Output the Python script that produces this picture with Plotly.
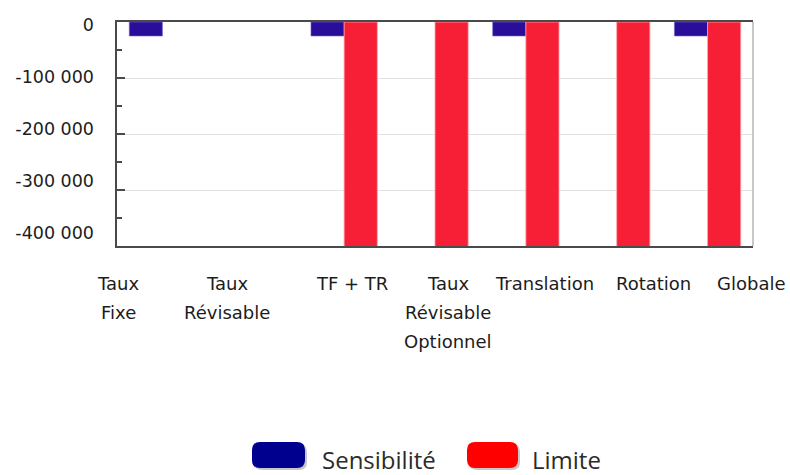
import plotly.graph_objects as go

# Data
categories = ["Taux Fixe", "Taux Révisable", "TF + TR", "Taux Révisable Optionnel",
              "Translation", "Rotation", "Globale"]
category_lines = [["Taux", "Fixe"], ["Taux", "Révisable"], ["TF + TR"],
                  ["Taux", "Révisable", "Optionnel"], ["Translation"], ["Rotation"], ["Globale"]]
sensibilite = [-25000, None, -25000, None, -25000, None, -25000]
limite = [None, None, -500000, -500000, -500000, -500000, -500000]
y_tick_values = [0, -100000, -200000, -300000, -400000]

# Figure geometry (pixels)
W, H = 790, 475
ML, MR, MT, MB = 117, 37, 22, 229
PW, PH = W - ML - MR, H - MT - MB


def to_paper(x, y):
    return (x - ML) / PW, (H - MB - y) / PH


def rounded_rect(x0, y0, x1, y1, r):
    pts = [
        ("M", [(x0 + r, y0)]), ("L", [(x1 - r, y0)]), ("Q", [(x1, y0), (x1, y0 + r)]),
        ("L", [(x1, y1 - r)]), ("Q", [(x1, y1), (x1 - r, y1)]), ("L", [(x0 + r, y1)]),
        ("Q", [(x0, y1), (x0, y1 - r)]), ("L", [(x0, y0 + r)]), ("Q", [(x0, y0), (x0 + r, y0)]),
    ]
    parts = []
    for cmd, coords in pts:
        cs = " ".join("%.5f,%.5f" % to_paper(cx, cy) for cx, cy in coords)
        parts.append(f"{cmd}{cs}")
    return " ".join(parts) + " Z"


fig = go.Figure()
fig.add_trace(go.Bar(x=categories, y=sensibilite, name="Sensibilité",
                     marker=dict(color="#2a0e9a", line=dict(color="rgba(120,100,200,0.6)", width=1))))
fig.add_trace(go.Bar(x=categories, y=limite, name="Limite",
                     marker=dict(color="#f61f35", line=dict(color="rgba(255,160,170,0.8)", width=1))))
# invisible carrier for the value-axis labels scale
fig.add_trace(go.Scatter(x=[categories[0]] * len(y_tick_values), y=y_tick_values, yaxis="y2",
                         mode="markers", marker=dict(opacity=0), hoverinfo="skip", showlegend=False))

fmt = lambda v: f"{v:,}".replace(",", " ")

fig.update_layout(
    width=W, height=H,
    margin=dict(l=ML, r=MR, t=MT, b=MB),
    paper_bgcolor="white", plot_bgcolor="white",
    barmode="group", bargap=0.27, bargroupgap=0,
    showlegend=False,
    xaxis=dict(range=[-0.5, len(categories) - 0.5], showticklabels=False, ticks="", showgrid=False,
               showline=True, linecolor="#4a4a4a", linewidth=2, mirror=True, fixedrange=True),
    yaxis=dict(range=[-400000, 0], tickvals=y_tick_values, showticklabels=False,
               ticks="inside", ticklen=8, tickcolor="#4a4a4a", tickwidth=1.5,
               minor=dict(dtick=50000, ticks="inside", ticklen=5, tickcolor="#4a4a4a", showgrid=False),
               showgrid=True, gridcolor="#e3e3e3", gridwidth=1, zeroline=False,
               showline=True, linecolor="#4a4a4a", linewidth=2),
    # tick labels of the value axis, drawn on their own overlaying scale
    yaxis2=dict(overlaying="y", side="left", range=[-425000, 5769],
                tickvals=y_tick_values, ticktext=[fmt(v) for v in y_tick_values],
                ticks="", showgrid=False, zeroline=False, showline=False,
                ticklabelstandoff=22,
                tickfont=dict(family="DejaVu Sans", size=17.5, color="#1c1c1c")),
)

# light right-hand border of the plot frame
fig.add_shape(type="line", xref="paper", yref="paper", x0=1, x1=1, y0=0, y1=1,
              line=dict(color="#c8c8c8", width=2))

# category labels, one annotation per line
label_offsets = [-44, -26, 8, 13, 19, 37, 44]
for cat, lines, dx in zip(categories, category_lines, label_offsets):
    for j, line in enumerate(lines):
        fig.add_annotation(x=cat, xref="x", y=0, yref="paper", text=line, showarrow=False,
                           xanchor="center", yanchor="middle", xshift=dx, yshift=-(37 + 29 * j),
                           font=dict(family="DejaVu Sans", size=18, color="#1c1c1c"))

# legend drawn as rounded swatches with labels
legend_items = [("Sensibilité", "#00008f", 252, 305, 320), ("Limite", "#ff0000", 467, 518, 530)]
for name, color, bx0, bx1, tx in legend_items:
    fig.add_shape(type="path", xref="paper", yref="paper", path=rounded_rect(bx0 + 2, 444, bx1 + 2, 470, 8),
                  fillcolor="rgba(0,0,0,0.22)", line=dict(width=0), layer="above")
    fig.add_shape(type="path", xref="paper", yref="paper", path=rounded_rect(bx0, 442, bx1, 468, 8),
                  fillcolor=color, line=dict(width=0), layer="above")
    px, py = to_paper(tx, 459)
    fig.add_annotation(x=px, y=py, xref="paper", yref="paper", text=name, showarrow=False,
                       xanchor="left", yanchor="middle",
                       font=dict(family="Open Sans", size=24, color="#2b2b2b"))

fig.write_html("out.html")
